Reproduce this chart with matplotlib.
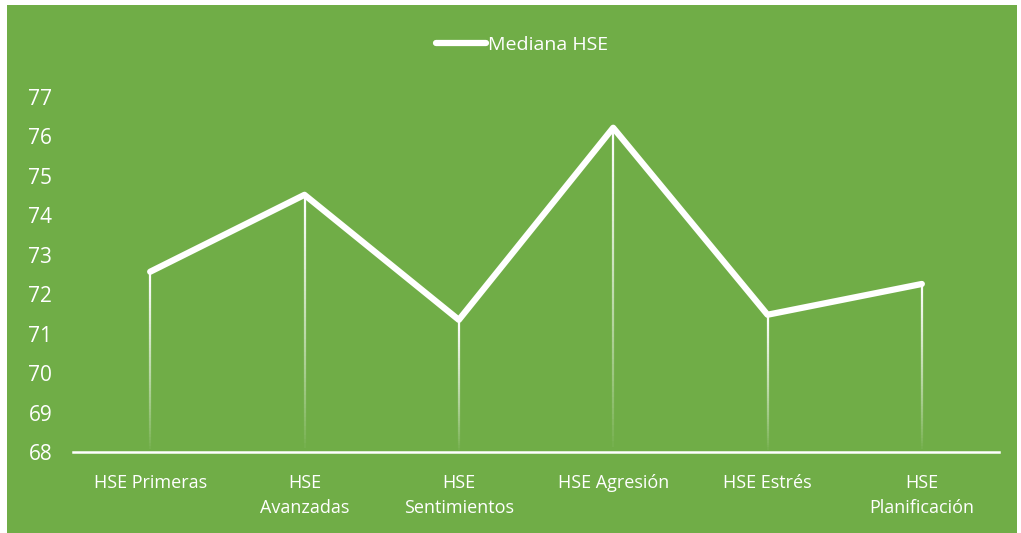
import numpy as np
import matplotlib.pyplot as plt
from matplotlib.patches import Rectangle
from matplotlib.collections import LineCollection

categories = ['HSE Primeras', 'HSE\nAvanzadas', 'HSE\nSentimientos',
              'HSE Agresión', 'HSE Estrés', 'HSE\nPlanificación']
mediana = [72.57, 74.52, 71.35, 76.22, 71.48, 72.26]
yticks = list(range(68, 78))

green = '#70AD47'
plt.rcParams['font.family'] = ['Open Sans', 'DejaVu Sans']

fig = plt.figure(figsize=(10.21, 5.33), dpi=100, facecolor='white')
# green chart area with thin white margin on the left/top
fig.patches.append(Rectangle((7 / 1021, 0), 1010 / 1021, 528 / 533,
                             transform=fig.transFigure, facecolor=green,
                             edgecolor='none', zorder=-10))

ax = fig.add_axes([73 / 1021, 1 - 452 / 533, 926 / 1021, 355 / 533])
ax.set_facecolor('none')
x = np.arange(len(categories))

# drop lines fading towards the bottom
for xi, yi in zip(x, mediana):
    ys = np.linspace(68, yi, 60)
    segs = [[(xi, ys[i]), (xi, ys[i + 1])] for i in range(len(ys) - 1)]
    alphas = np.linspace(0.0, 1.0, len(segs)) ** 0.8
    cols = [(1, 1, 1, a) for a in alphas]
    ax.add_collection(LineCollection(segs, colors=cols, linewidths=1.6, zorder=2))

ax.plot(x, mediana, color='white', lw=4.5, solid_joinstyle='round',
        solid_capstyle='round', label='Mediana HSE', zorder=3)

ax.set_xlim(-0.5, len(categories) - 0.5)
ax.set_ylim(68, 77)
ax.set_yticks(yticks)
ax.set_xticks(x)
ax.set_xticklabels(categories, fontsize=13, color='white', linespacing=1.45)
ax.tick_params(axis='y', length=0, labelsize=15, labelcolor='white', pad=15)
ax.tick_params(axis='x', length=0, pad=16)
for side in ['top', 'right', 'left']:
    ax.spines[side].set_visible(False)
ax.spines['bottom'].set_color('white')
ax.spines['bottom'].set_linewidth(1.8)

leg = fig.legend(loc='center', bbox_to_anchor=(522 / 1021, 1 - 45 / 533),
                 frameon=False, fontsize=14, handlelength=2.6, handletextpad=0.1)
for t in leg.get_texts():
    t.set_color('white')

fig.savefig('out.png', dpi=100, facecolor='white')
